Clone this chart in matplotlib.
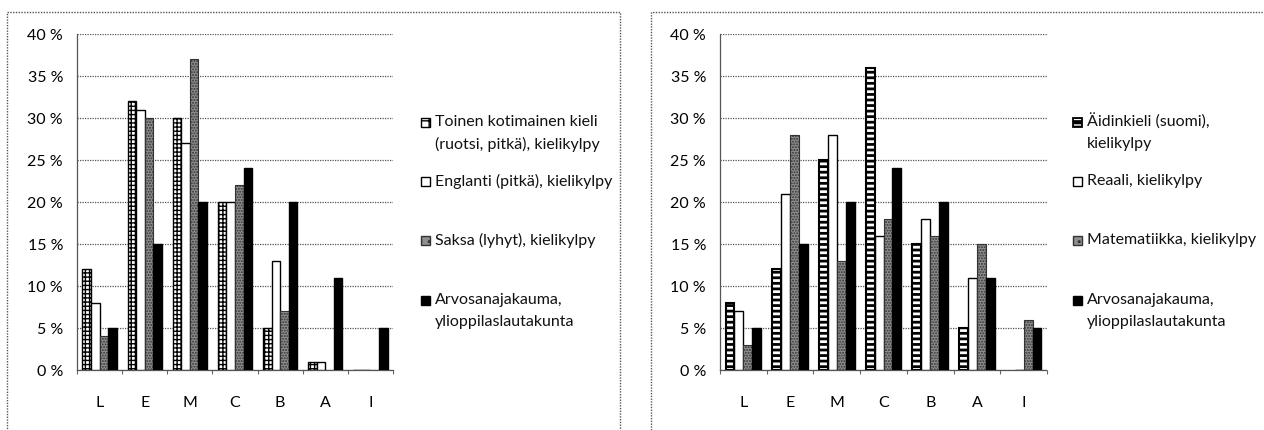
import numpy as np
import matplotlib
matplotlib.use('Agg')
import matplotlib.pyplot as plt
from matplotlib.patches import Rectangle

plt.rcParams['font.family'] = ['Lato', 'DejaVu Sans']
plt.rcParams['text.color'] = '#111111'

grades = ['L', 'E', 'M', 'C', 'B', 'A', 'I']

# left chart: languages
ruotsi = [12, 32, 30, 20, 5, 1, 0]
englanti = [8, 31, 27, 20, 13, 1, 0]
saksa = [4, 30, 37, 22, 7, 0, 0]
# right chart
aidinkieli = [8, 12, 25, 36, 15, 5, 0]
reaali = [7, 21, 28, 16, 18, 11, 0]
matematiikka = [3, 28, 13, 18, 16, 15, 6]
# same reference in both charts
yo_jakauma = [5, 15, 20, 24, 20, 11, 5]

left_labels = ['Toinen kotimainen kieli\n(ruotsi, pitkä), kielikylpy',
               'Englanti (pitkä), kielikylpy',
               'Saksa (lyhyt), kielikylpy',
               'Arvosanajakauma,\nylioppilaslautakunta']
right_labels = ['Äidinkieli (suomi),\nkielikylpy',
                'Reaali, kielikylpy',
                'Matematiikka, kielikylpy',
                'Arvosanajakauma,\nylioppilaslautakunta']

W, H = 1264, 430
fig = plt.figure(figsize=(W / 100, H / 100), dpi=100)
fig.patch.set_facecolor('white')

# dotted frames round the two charts
for x0, x1 in [(7, 620), (651, 1290)]:
    fig.add_artist(Rectangle((x0 / W, -0.05), (x1 - x0) / W, 1 - 12 / H + 0.05,
                             transform=fig.transFigure, fill=False,
                             ec='#555555', lw=1.0, ls=(0, (1, 1))))


def style_patch(kind):
    if kind == 'boxes':
        return dict(facecolor='white', edgecolor='black', hatch='++++', linewidth=1.0)
    if kind == 'plain':
        return dict(facecolor='white', edgecolor='black', linewidth=1.0)
    if kind == 'grey':
        return dict(facecolor='#8f8f8f', edgecolor='#333333', hatch='......', linewidth=0.8)
    return dict(facecolor='black', edgecolor='black', linewidth=1.0)


def draw_bars(ax, x, vals, kind, width):
    if kind == 'ladder':
        with plt.rc_context({'hatch.linewidth': 2.0}):
            ax.bar(x, vals, width, facecolor='black', edgecolor='white',
                   hatch='---', linewidth=0, zorder=3)
        edges = ['black' if v > 0 else 'none' for v in vals]
        ax.bar(x, vals, width, fill=False, edgecolor=edges, linewidth=1.5, zorder=4)
    else:
        ax.bar(x, vals, width, zorder=3, **style_patch(kind))


def legend_handle(x, y, kind):
    s = 9
    r = Rectangle(((x) / W, 1 - (y + s / 2) / H), s / W, s / H,
                  transform=fig.transFigure)
    if kind == 'ladder':
        r.set_facecolor('black')
        r.set_edgecolor('white')
        r.set_hatch('---')
        r.set_linewidth(0)
        fig.add_artist(r)
        fig.add_artist(Rectangle(((x) / W, 1 - (y + s / 2) / H), s / W, s / H,
                                 transform=fig.transFigure, fill=False,
                                 ec='black', lw=1.3))
    else:
        st = style_patch(kind)
        r.set_facecolor(st['facecolor'])
        r.set_edgecolor(st['edgecolor'])
        r.set_linewidth(1.0)
        if 'hatch' in st:
            r.set_hatch(st['hatch'][:2])
        fig.add_artist(r)


def chart(rect, series, kinds, labels, leg_x):
    ax = fig.add_axes(rect)
    x = np.arange(len(grades))
    w = 0.19
    for i, (vals, kind) in enumerate(zip(series, kinds)):
        draw_bars(ax, x + (i - 1.5) * w, vals, kind, w)
    ax.set_xlim(-0.5, len(grades) - 0.5)
    ax.set_ylim(0, 40)
    ax.set_yticks(range(0, 41, 5))
    ax.set_yticklabels([f'{v} %' for v in range(0, 41, 5)], fontsize=11.5)
    ax.set_xticks(x)
    ax.set_xticklabels(grades, fontsize=11.5)
    ax.set_xticks(np.arange(-0.5, len(grades), 1), minor=True)
    ax.tick_params(axis='x', which='major', length=0, pad=19)
    ax.tick_params(axis='x', which='minor', length=3, color='#666666', width=0.8)
    ax.tick_params(axis='y', length=0, pad=10)
    ax.yaxis.grid(True, linestyle=(0, (1, 1)), color='#555555', linewidth=0.9, zorder=0)
    ax.set_axisbelow(True)
    for sp in ['top', 'right']:
        ax.spines[sp].set_visible(False)
    for sp in ['left', 'bottom']:
        ax.spines[sp].set_linestyle((0, (1, 1)))
        ax.spines[sp].set_color('#555555')
        ax.spines[sp].set_linewidth(0.9)

    # legend entries: y of first text line for each entry
    ys = [122, 181, 240, 300]
    for y, lab, kind in zip(ys, labels, kinds):
        legend_handle(leg_x, y, kind)
        for j, line in enumerate(lab.split('\n')):
            fig.text((leg_x + 14) / W, 1 - (y + j * 22) / H, line,
                     fontsize=11.5, va='center', ha='left')
    return ax


chart([77 / W, 60 / H, 316 / W, 336 / H],
      [ruotsi, englanti, saksa, yo_jakauma],
      ['boxes', 'plain', 'grey', 'black'], left_labels, 421)
chart([720 / W, 60 / H, 327 / W, 336 / H],
      [aidinkieli, reaali, matematiikka, yo_jakauma],
      ['ladder', 'plain', 'grey', 'black'], right_labels, 1073)

fig.savefig('out.png', dpi=100)
